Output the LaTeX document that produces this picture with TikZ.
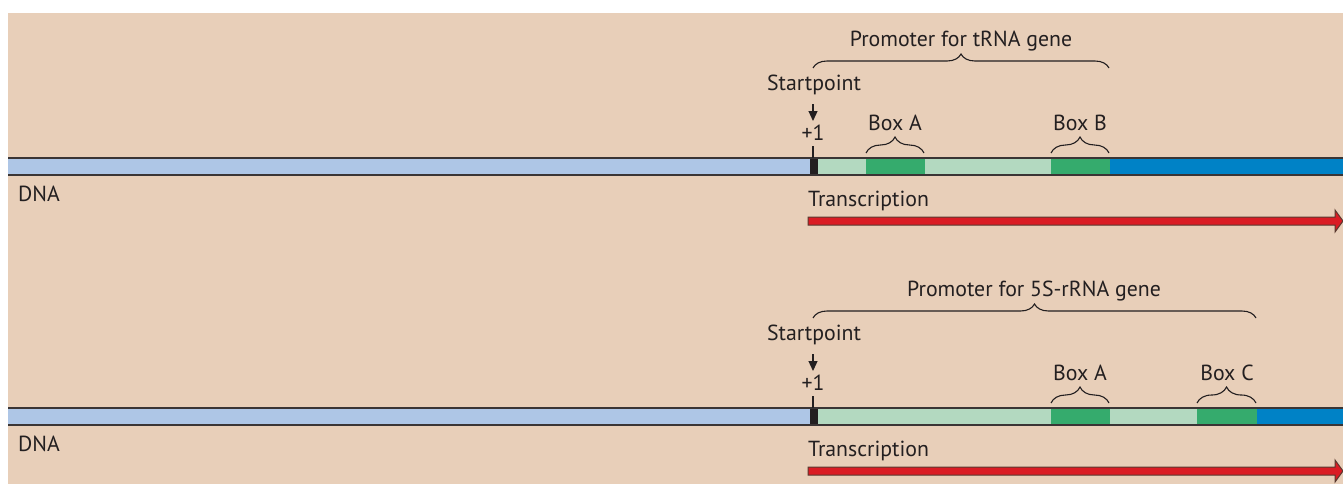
\documentclass[tikz,border=0pt]{standalone}
\usepackage{fontspec}
\setmainfont{PT Sans}
\usetikzlibrary{decorations.pathreplacing,arrows.meta}
\definecolor{bg}{HTML}{E8CFB9}
\definecolor{ltblue}{HTML}{AEC6E6}
\definecolor{ltgreen}{HTML}{B3D9C0}
\definecolor{dkgreen}{HTML}{35AB6D}
\definecolor{dblue}{HTML}{0082C6}
\definecolor{blk}{HTML}{231F20}
\definecolor{txt}{HTML}{231F20}
\definecolor{edge}{HTML}{3A3535}
\definecolor{arred}{HTML}{DA1C24}
\definecolor{aredge}{HTML}{5A3A30}
\begin{document}
\begin{tikzpicture}[x=1pt,y=-1pt,
  lbl/.style={inner sep=0pt, anchor=base, font=\fontsize{21.8}{26}\selectfont, text=txt},
  barline/.style={draw=edge, line width=1.2pt},
  bigbrace/.style={draw=txt, line width=1.1pt, decorate, decoration={brace, amplitude=14pt}},
  boxbrace/.style={draw=txt, line width=1.1pt, decorate, decoration={brace, amplitude=16pt}},
  tick/.style={draw=txt, line width=1.3pt},
  sparrow/.style={draw=txt, line width=1.2pt, -{Triangle[length=10pt,width=9pt]}},
  transarrow/.style={fill=arred, draw=aredge, line width=1pt}]
\useasboundingbox (0,0) rectangle (1343,488);
\fill[bg] (8,13) rectangle (1343,484);
% ---------- Row 1 ----------
\fill[ltblue] (8,158) rectangle (810,175);
\fill[blk] (810,158) rectangle (818,175);
\fill[ltgreen] (818,158) rectangle (866,175);
\fill[dkgreen] (866,158) rectangle (925,175);
\fill[ltgreen] (925,158) rectangle (1051,175);
\fill[dkgreen] (1051,158) rectangle (1110,175);
\fill[dblue] (1110,158) rectangle (1343,175);
\draw[barline] (8,158) -- (1343,158);
\draw[barline] (8,175) -- (1343,175);
\node[lbl] (prom1) at (961,46) {Promoter for tRNA gene};
\coordinate (pb1l) at (813,68);
\coordinate (pb1r) at (1109,68);
\draw[bigbrace] (pb1l) -- (pb1r);
\node[lbl] (sp1) at (814,90) {Startpoint};
\node[lbl] (one1) at (813,140) {+1};
\coordinate (sa1) at (813,104);
\coordinate (sb1) at (813,121);
\draw[sparrow] (sa1) -- (sb1);
\coordinate (t1a) at (813,146);
\coordinate (t1b) at (813,158);
\draw[tick] (t1a) -- (t1b);
\node[lbl] (ba1) at (895,130) {Box A};
\coordinate (ba1l) at (866,153);
\coordinate (ba1r) at (924,153);
\draw[boxbrace] (ba1l) -- (ba1r);
\node[lbl] (bb1) at (1080,130) {Box B};
\coordinate (bb1l) at (1051,153);
\coordinate (bb1r) at (1109,153);
\draw[boxbrace] (bb1l) -- (bb1r);
\node[lbl, anchor=base west] (dna1) at (18,201) {DNA};
\node[lbl, anchor=base west] (tr1) at (808,206) {Transcription};
\draw[transarrow] (808,217) -- (1335,217) -- (1335,210) -- (1343,221) -- (1335,232) -- (1335,225) -- (808,225) -- cycle;
% ---------- Row 2 ----------
\fill[ltblue] (8,408) rectangle (810,425);
\fill[blk] (810,408) rectangle (818,425);
\fill[ltgreen] (818,408) rectangle (1051,425);
\fill[dkgreen] (1051,408) rectangle (1110,425);
\fill[ltgreen] (1110,408) rectangle (1197,425);
\fill[dkgreen] (1197,408) rectangle (1257,425);
\fill[dblue] (1257,408) rectangle (1343,425);
\draw[barline] (8,408) -- (1343,408);
\draw[barline] (8,425) -- (1343,425);
\node[lbl] (prom2) at (1034,296) {Promoter for 5S-rRNA gene};
\coordinate (pb2l) at (813,318);
\coordinate (pb2r) at (1256,318);
\draw[bigbrace] (pb2l) -- (pb2r);
\node[lbl] (sp2) at (814,340) {Startpoint};
\node[lbl] (one2) at (813,390) {+1};
\coordinate (sa2) at (813,354);
\coordinate (sb2) at (813,371);
\draw[sparrow] (sa2) -- (sb2);
\coordinate (t2a) at (813,396);
\coordinate (t2b) at (813,408);
\draw[tick] (t2a) -- (t2b);
\node[lbl] (ba2) at (1080,380) {Box A};
\coordinate (ba2l) at (1051,403);
\coordinate (ba2r) at (1109,403);
\draw[boxbrace] (ba2l) -- (ba2r);
\node[lbl] (bc2) at (1227,380) {Box C};
\coordinate (bc2l) at (1197,403);
\coordinate (bc2r) at (1256,403);
\draw[boxbrace] (bc2l) -- (bc2r);
\node[lbl, anchor=base west] (dna2) at (18,451) {DNA};
\node[lbl, anchor=base west] (tr2) at (808,456) {Transcription};
\draw[transarrow] (808,467) -- (1335,467) -- (1335,460) -- (1343,471) -- (1335,482) -- (1335,475) -- (808,475) -- cycle;
\end{tikzpicture}
\end{document}
